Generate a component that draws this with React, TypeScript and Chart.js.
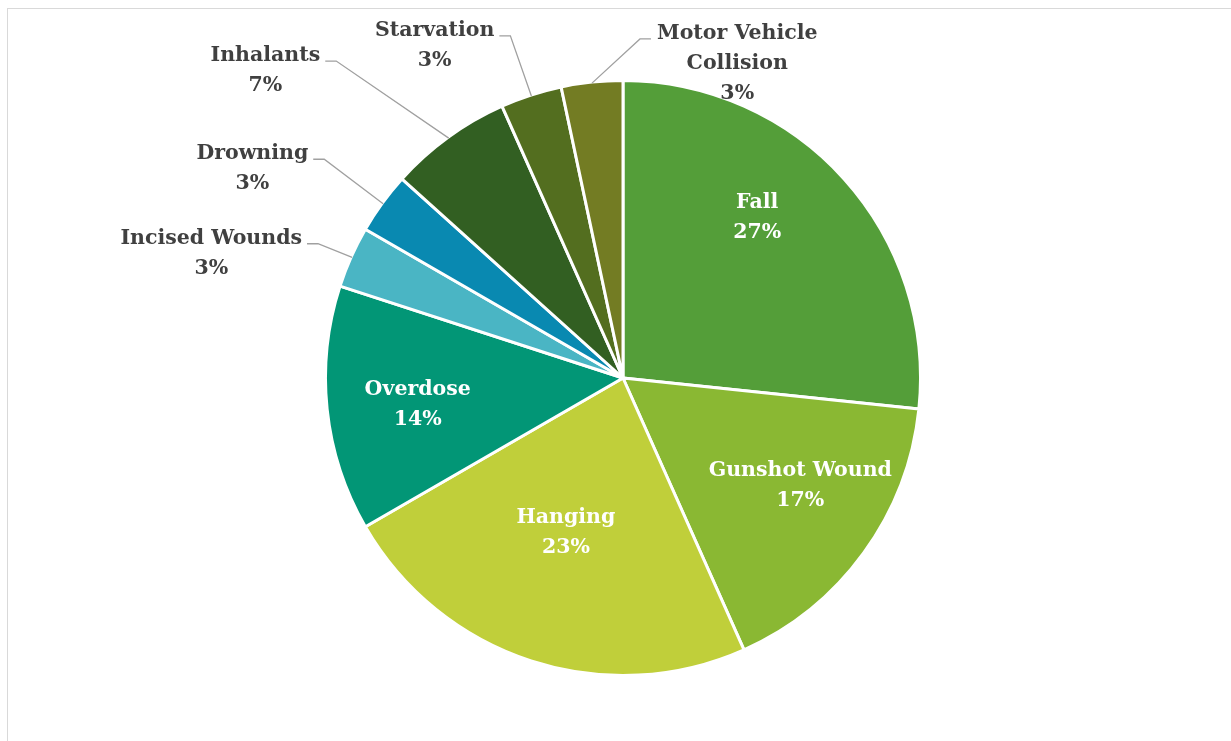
import React, { useEffect, useRef } from "react";
import { Chart, registerables } from "chart.js";

Chart.register(...registerables);

// ---- data ----
const categories = [
  "Fall",
  "Gunshot Wound",
  "Hanging",
  "Overdose",
  "Incised Wounds",
  "Drowning",
  "Inhalants",
  "Starvation",
  "Motor Vehicle Collision",
];
const counts = [8, 5, 7, 4, 1, 1, 2, 1, 1];
const percentLabels = ["27%", "17%", "23%", "14%", "3%", "3%", "7%", "3%", "3%"];
const labelLines = [
  ["Fall"],
  ["Gunshot Wound"],
  ["Hanging"],
  ["Overdose"],
  ["Incised Wounds"],
  ["Drowning"],
  ["Inhalants"],
  ["Starvation"],
  ["Motor Vehicle", "Collision"],
];
const colors = [
  "#549E39",
  "#8AB833",
  "#C0CF3A",
  "#029676",
  "#4AB5C4",
  "#0989B1",
  "#325F22",
  "#536E1F",
  "#737C23",
];

// ---- label layout (relative to pie centre, in units of radius) ----
type Place = { dx: number; dy: number; outside: boolean };
const placements: Place[] = [
  { dx: 0.451, dy: -0.545, outside: false },
  { dx: 0.596, dy: 0.354, outside: false },
  { dx: -0.192, dy: 0.512, outside: false },
  { dx: -0.69, dy: 0.084, outside: false },
  { dx: -1.384, dy: -0.426, outside: true },
  { dx: -1.246, dy: -0.71, outside: true },
  { dx: -1.202, dy: -1.04, outside: true },
  { dx: -0.633, dy: -1.125, outside: true },
  { dx: 0.384, dy: -1.064, outside: true },
];

const FONT_SIZE = 20.5;
const LINE_H = 30;
const FONT = `bold ${FONT_SIZE}px 'DejaVu Serif'`;

const labelPlugin = {
  id: "pieLabels",
  afterDatasetsDraw(chart: any) {
    const ctx: CanvasRenderingContext2D = chart.ctx;
    const meta = chart.getDatasetMeta(0);
    const a0: any = meta.data[0];
    const cx = a0.x;
    const cy = a0.y;
    const R = a0.outerRadius;
    ctx.save();
    ctx.font = FONT;
    ctx.textAlign = "center";
    ctx.textBaseline = "alphabetic";
    const capHalf = FONT_SIZE * 0.729 * 0.5;
    meta.data.forEach((arc: any, i: number) => {
      const p = placements[i];
      const lines = [...labelLines[i], percentLabels[i]];
      const bx = cx + p.dx * R;
      const by = cy + p.dy * R;
      const firstCenter = by - ((lines.length - 1) * LINE_H) / 2;
      ctx.fillStyle = p.outside ? "#404040" : "#ffffff";
      lines.forEach((t, k) => {
        ctx.fillText(t, bx, firstCenter + k * LINE_H + capHalf);
      });
      if (p.outside) {
        const firstW = ctx.measureText(lines[0]).width;
        const mid = (arc.startAngle + arc.endAngle) / 2;
        const ax = cx + Math.cos(mid) * (arc.outerRadius - 1);
        const ay = cy + Math.sin(mid) * (arc.outerRadius - 1);
        const ly = firstCenter + capHalf;
        const leftSide = bx < ax;
        const edge = leftSide ? bx + firstW / 2 + 5 : bx - firstW / 2 - 6;
        const elbow = leftSide ? edge + 11 : edge - 11;
        ctx.beginPath();
        ctx.strokeStyle = "#a0a0a0";
        ctx.lineWidth = 1.3;
        ctx.moveTo(edge, ly);
        ctx.lineTo(elbow, ly);
        ctx.lineTo(ax, ay);
        ctx.stroke();
      }
    });
    ctx.restore();
  },
};

export default function App() {
  const ref = useRef<HTMLCanvasElement | null>(null);
  useEffect(() => {
    if (!ref.current) return;
    const chart = new Chart(ref.current, {
      type: "pie",
      data: {
        labels: categories,
        datasets: [
          {
            data: counts,
            backgroundColor: colors,
            borderColor: "#ffffff",
            borderWidth: 3,
            radius: 297.5,
          } as any,
        ],
      },
      options: {
        responsive: false,
        animation: false,
        layout: { padding: { left: 15, top: 15 } },
        plugins: {
          legend: { display: false },
          tooltip: { enabled: false },
        },
      },
      plugins: [labelPlugin],
    });
    return () => chart.destroy();
  }, []);

  return (
    <div
      style={{
        position: "fixed",
        left: 0,
        top: 0,
        width: 1231,
        height: 741,
        overflow: "hidden",
        background: "#ffffff",
      }}
    >
      <div
        style={{
          position: "absolute",
          left: 7,
          top: 8,
          width: 1300,
          height: 800,
          border: "1px solid #d9d9d9",
        }}
      />
      <canvas
        ref={ref}
        width={1231}
        height={741}
        style={{ position: "absolute", left: 0, top: 0, width: 1231, height: 741 }}
      />
    </div>
  );
}
